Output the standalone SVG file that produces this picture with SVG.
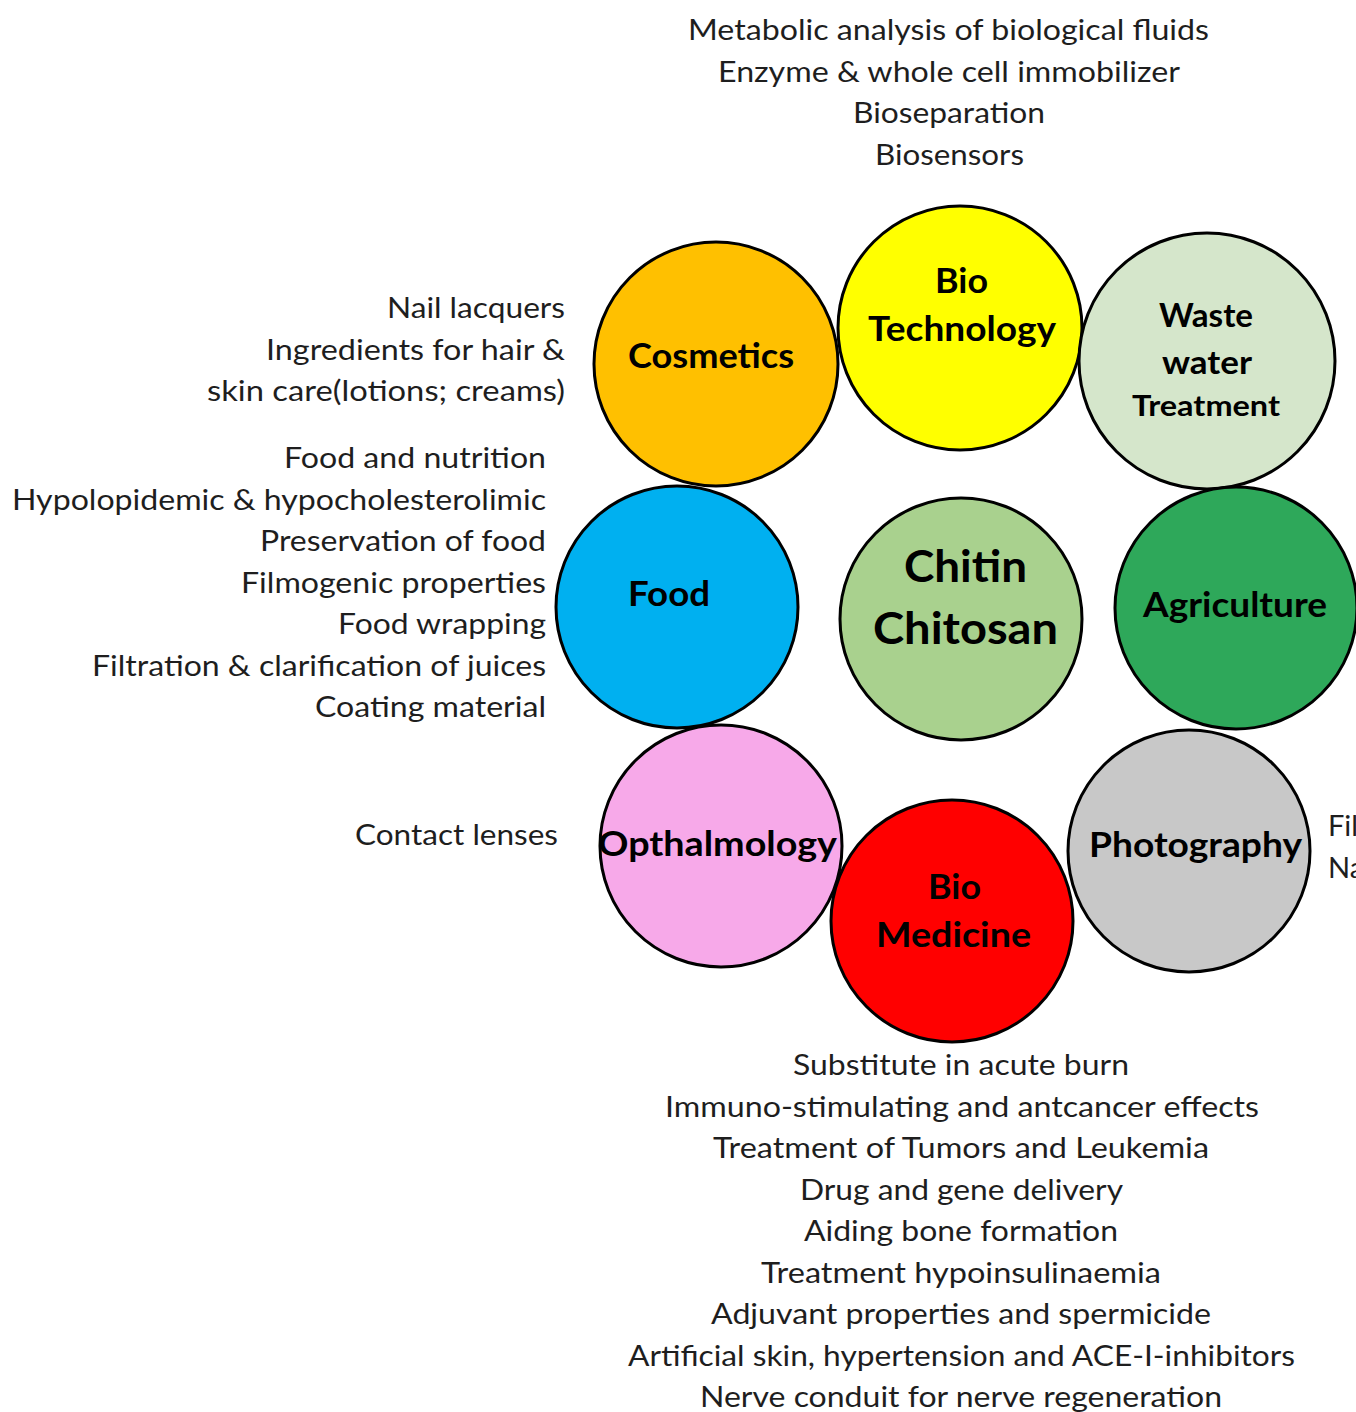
<svg xmlns="http://www.w3.org/2000/svg" width="1356" height="1412" viewBox="0 0 1356 1412">
<style>
.c{stroke:#000;stroke-width:3}
.t{font-family:Lato,"Open Sans","Liberation Sans",sans-serif;font-size:29px;fill:#1e1e1e}
.b{font-family:Lato,"Open Sans","Liberation Sans",sans-serif;font-weight:bold;fill:#000}
</style>
<rect width="1356" height="1412" fill="#fff"/>
<g id="connectors"></g>
<g id="cosmetics">
<circle class="c" cx="716" cy="364" r="122" fill="#FFC000"/>
<text class="b" font-size="34" x="628" y="368" textLength="166" lengthAdjust="spacingAndGlyphs">Cosmetics</text>
</g>
<g id="biotechnology">
<circle class="c" cx="960" cy="328" r="122" fill="#FFFF00"/>
<text class="b" font-size="34" x="935" y="293" textLength="53" lengthAdjust="spacingAndGlyphs">Bio</text>
<text class="b" font-size="34" x="868" y="341" textLength="188" lengthAdjust="spacingAndGlyphs">Technology</text>
</g>
<g id="wastewater">
<circle class="c" cx="1207" cy="361" r="128" fill="#D5E6CB"/>
<text class="b" font-size="33" x="1159" y="327" textLength="94" lengthAdjust="spacingAndGlyphs">Waste</text>
<text class="b" font-size="33" x="1162" y="374" textLength="90" lengthAdjust="spacingAndGlyphs">water</text>
<text class="b" font-size="29" x="1132" y="416" textLength="148" lengthAdjust="spacingAndGlyphs">Treatment</text>
</g>
<g id="food">
<circle class="c" cx="677" cy="607" r="121" fill="#00B0F0"/>
<text class="b" font-size="34" x="628" y="606" textLength="82" lengthAdjust="spacingAndGlyphs">Food</text>
</g>
<g id="chitin">
<circle class="c" cx="961" cy="619" r="121" fill="#A9D18E"/>
<text class="b" font-size="44" x="904" y="582" textLength="123" lengthAdjust="spacingAndGlyphs">Chitin</text>
<text class="b" font-size="44" x="873" y="644" textLength="185" lengthAdjust="spacingAndGlyphs">Chitosan</text>
</g>
<g id="agriculture">
<circle class="c" cx="1236" cy="608" r="121" fill="#2EA85A"/>
<text class="b" font-size="34" x="1143" y="617" textLength="184" lengthAdjust="spacingAndGlyphs">Agriculture</text>
</g>
<g id="opthalmology">
<circle class="c" cx="721" cy="846" r="121" fill="#F7A9E9"/>
<text class="b" font-size="34" x="598" y="856" textLength="239" lengthAdjust="spacingAndGlyphs">Opthalmology</text>
</g>
<g id="photography">
<circle class="c" cx="1189" cy="851" r="121" fill="#C8C8C8"/>
<text class="b" font-size="34" x="1089" y="857" textLength="213" lengthAdjust="spacingAndGlyphs">Photography</text>
</g>
<g id="biomedicine">
<circle class="c" cx="952" cy="921" r="121" fill="#FF0000"/>
<text class="b" font-size="34" x="928" y="899" textLength="53" lengthAdjust="spacingAndGlyphs">Bio</text>
<text class="b" font-size="34" x="876" y="947" textLength="155" lengthAdjust="spacingAndGlyphs">Medicine</text>
</g>
<g id="biotech-uses">
<text class="t" x="688" y="40" textLength="521" lengthAdjust="spacingAndGlyphs">Metabolic analysis of biological fluids</text>
<text class="t" x="718" y="82" textLength="462" lengthAdjust="spacingAndGlyphs">Enzyme &amp; whole cell immobilizer</text>
<text class="t" x="853" y="123" textLength="192" lengthAdjust="spacingAndGlyphs">Bioseparation</text>
<text class="t" x="875" y="165" textLength="149" lengthAdjust="spacingAndGlyphs">Biosensors</text>
</g>
<g id="cosmetics-uses">
<text class="t" x="387" y="318" textLength="178" lengthAdjust="spacingAndGlyphs">Nail lacquers</text>
<text class="t" x="266" y="360" textLength="299" lengthAdjust="spacingAndGlyphs">Ingredients for hair &amp;</text>
<text class="t" x="207" y="401" textLength="358" lengthAdjust="spacingAndGlyphs">skin care(lotions; creams)</text>
</g>
<g id="food-uses">
<text class="t" x="284" y="468" textLength="262" lengthAdjust="spacingAndGlyphs">Food and nutrition</text>
<text class="t" x="12" y="510" textLength="534" lengthAdjust="spacingAndGlyphs">Hypolopidemic &amp; hypocholesterolimic</text>
<text class="t" x="260" y="551" textLength="286" lengthAdjust="spacingAndGlyphs">Preservation of food</text>
<text class="t" x="241" y="593" textLength="305" lengthAdjust="spacingAndGlyphs">Filmogenic properties</text>
<text class="t" x="338" y="634" textLength="208" lengthAdjust="spacingAndGlyphs">Food wrapping</text>
<text class="t" x="92" y="676" textLength="454" lengthAdjust="spacingAndGlyphs">Filtration &amp; clarification of juices</text>
<text class="t" x="315" y="717" textLength="231" lengthAdjust="spacingAndGlyphs">Coating material</text>
</g>
<g id="opthalmology-uses">
<text class="t" x="355" y="845" textLength="203" lengthAdjust="spacingAndGlyphs">Contact lenses</text>
</g>
<g id="photography-uses">
<text class="t" x="1328" y="836">Fil</text>
<text class="t" x="1328" y="878">Na</text>
</g>
<g id="biomedicine-uses">
<text class="t" x="793" y="1075" textLength="336" lengthAdjust="spacingAndGlyphs">Substitute in acute burn</text>
<text class="t" x="665" y="1117" textLength="594" lengthAdjust="spacingAndGlyphs">Immuno-stimulating and antcancer effects</text>
<text class="t" x="713" y="1158" textLength="496" lengthAdjust="spacingAndGlyphs">Treatment of Tumors and Leukemia</text>
<text class="t" x="800" y="1200" textLength="323" lengthAdjust="spacingAndGlyphs">Drug and gene delivery</text>
<text class="t" x="804" y="1241" textLength="314" lengthAdjust="spacingAndGlyphs">Aiding bone formation</text>
<text class="t" x="761" y="1283" textLength="400" lengthAdjust="spacingAndGlyphs">Treatment hypoinsulinaemia</text>
<text class="t" x="711" y="1324" textLength="500" lengthAdjust="spacingAndGlyphs">Adjuvant properties and spermicide</text>
<text class="t" x="628" y="1366" textLength="667" lengthAdjust="spacingAndGlyphs">Artificial skin, hypertension and ACE-I-inhibitors</text>
<text class="t" x="700" y="1407" textLength="522" lengthAdjust="spacingAndGlyphs">Nerve conduit for nerve regeneration</text>
</g>
</svg>
